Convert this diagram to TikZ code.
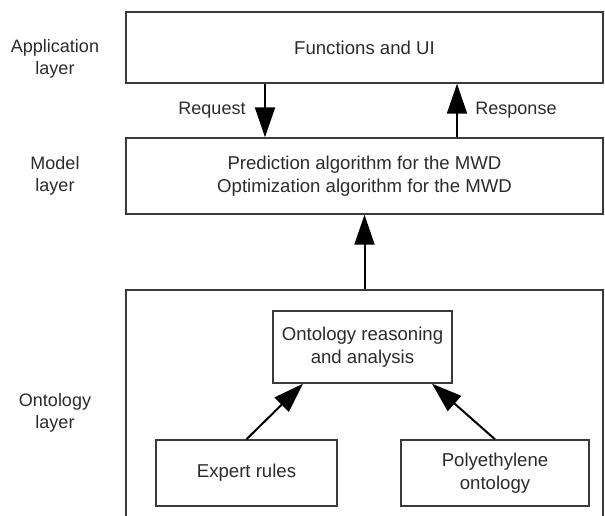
\documentclass[tikz,border=0pt]{standalone}
\usepackage{fontspec}
\setmainfont{Liberation Sans}
\usetikzlibrary{arrows.meta}
\definecolor{ink}{HTML}{2B2B2B}
\definecolor{edge}{HTML}{3A3A3A}
\tikzset{
  box/.style={draw=edge, line width=1.4pt, inner sep=0pt, align=center, text=ink,
    font=\fontsize{18.6}{23}\selectfont},
  lbl/.style={align=center, text=ink, inner sep=0pt, font=\fontsize{18}{22.5}\selectfont},
  arr/.style={draw=black, line width=2pt, -{Triangle[length=30pt,width=20pt]}},
}
\begin{document}
\begin{tikzpicture}[x=1pt,y=-1pt]
\useasboundingbox (0,0) rectangle (605,516);
\clip (0,0) rectangle (605,516);
% boxes
\node[box, minimum width=477pt, minimum height=71pt] (fun) at (364.5,47.5) {Functions and UI};
\node[box, minimum width=477pt, minimum height=76pt] (model) at (364.5,176)
  {Prediction algorithm for the MWD\\Optimization algorithm for the MWD};
\node[box, minimum width=477pt, minimum height=240pt] (onto) at (364.5,410) {};
\node[box, minimum width=179pt, minimum height=72pt] (reason) at (362.5,347)
  {Ontology reasoning\\and analysis};
\node[box, minimum width=181pt, minimum height=66pt] (expert) at (246.5,473) {Expert rules};
\node[box, minimum width=188pt, minimum height=66pt] (poly) at (495,473) {Polyethylene\\ontology};
% layer labels
\node[lbl] (lapp) at (55,59) {Application\\layer};
\node[lbl] (lmod) at (55,176) {Model\\layer};
\node[lbl] (lont) at (55,413) {Ontology\\layer};
% arrow labels
\node[lbl] (lreq) at (212,110) {Request};
\node[lbl] (lres) at (516,110) {Response};
% connectors
\draw[arr] ([xshift=-99.5pt]fun.south) -- ([xshift=-99.5pt]model.north);
\draw[arr] ([xshift=92.5pt]model.north) -- ([xshift=92.5pt]fun.south);
\draw[arr] (onto.north) -- (model.south);
\draw[arr] (expert.north) -- ([xshift=-59.5pt]reason.south);
\draw[arr] (poly.north) -- ([xshift=69.5pt]reason.south);
\end{tikzpicture}
\end{document}
